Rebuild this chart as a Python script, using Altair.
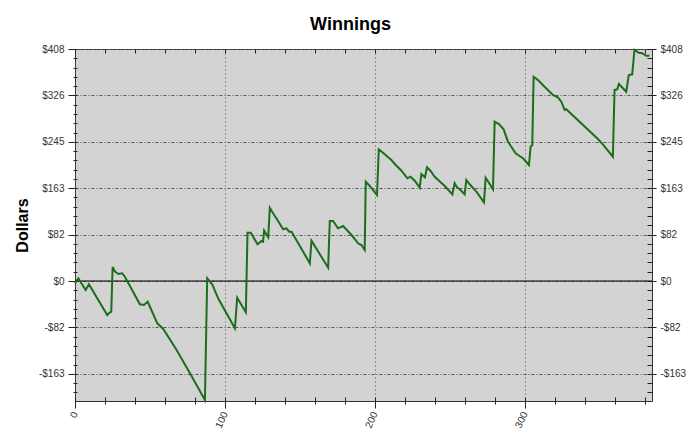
import altair as alt
import pandas as pd

# ---- data ----
games = [0, 2.2, 7.1, 9.3, 21.5, 23.3, 24.2, 25.1, 26.7, 28.9,
         31.5, 33.3, 43.3, 46, 48.5, 50, 54.9, 58.9, 67.8, 76.7,
         86.7, 88.2, 91.8, 95.5, 106.7, 108.2, 114, 115.1, 117.3, 121.8,
         124.5, 125.5, 126.2, 128.9, 130, 132.9, 135.1, 138.9, 141.1, 142.9,
         144.5, 156.7, 157.8, 168.9, 170, 172.2, 175.5, 178.9, 184.5, 188.9,
         191.1, 193.3, 194, 196.7, 201.5, 202.7, 205.5, 211.1, 214, 217.8,
         221.8, 223.8, 226.7, 230, 231.1, 233.5, 234.9, 237.3, 240, 246.7,
         251.8, 253.3, 254.9, 256.7, 260, 261.1, 263.8, 267.8, 272.9, 274,
         276.2, 278.9, 280, 282.9, 286, 288.9, 294, 298.9, 302.9, 304,
         305.1, 306, 308.9, 313.3, 318.9, 322.2, 324.5, 326.7, 327.8, 348.9,
         352.2, 358.9, 360, 361.8, 362.9, 367.8, 369.5, 371.8, 373.3, 376.2,
         378.5, 381.1, 383.3]
winnings = [-4, 4.7, -15.8, -5.8, -59.8, -55, -54, 24.6, 16.4, 12.3,
            13.5, 7.6, -41, -42.2, -36.4, -45.2, -74.4, -84.4, -121.4, -162.3,
            -209.3, 4.7, -7, -30.4, -83.2, -29.4, -55, 84.9, 84.9, 64.5,
            70.3, 69.1, 88.5, 76.9, 128.9, 116.1, 107.3, 90.9, 92.7, 86.7,
            86.7, 31.1, 70.9, 23.4, 105.5, 105.5, 92.7, 96.7, 80.9, 66.3,
            63.3, 54.5, 174.6, 167.1, 151.2, 231.6, 225.6, 212.8, 204, 194,
            180.6, 183.4, 176.4, 164.1, 188.2, 182.4, 200, 193.5, 183.4, 167.1,
            152.5, 171.8, 164.8, 161.3, 152.5, 177.6, 168.8, 157.1, 138.4, 181.7,
            172.9, 161.3, 280.2, 276.1, 266.8, 245, 224.6, 215.8, 204, 236.2,
            239.2, 359.3, 353.5, 341.7, 327.1, 323.1, 315.3, 300.7, 302, 249.7,
            240.4, 218.6, 335.9, 337.1, 346.5, 332.9, 362.3, 363.5, 406.3, 401.5,
            400.5, 396.2, 396.2]
zero_line = [0]

y_major_step = 81.6
y_ticks = [round(k * 16.32, 2) for k in range(-12, 26)]
x_ticks = list(range(0, 385, 20))
x_domain = [0, 385]
y_domain = [-211, 408]

df = pd.DataFrame({"game": games, "win": winnings})
zdf = pd.DataFrame({"v": zero_line})

FONT = "Liberation Sans"
y_major = f"abs(datum.value/{y_major_step} - round(datum.value/{y_major_step})) < 0.001"
y_label = f"({y_major}) ? ((datum.value < -0.01 ? '-$' : '$') + format(abs(datum.value), '.0f')) : ''"
x_major = "datum.value % 100 === 0"

xs = alt.Scale(domain=x_domain, nice=False, zero=False)
ys = alt.Scale(domain=y_domain, nice=False, zero=False)

zero = alt.Chart(zdf).mark_rule(color="#000000", strokeWidth=1).encode(
    y=alt.Y("v:Q", scale=ys, axis=None)
)

main = alt.Chart(df).mark_line(color="#1c6e1c", strokeWidth=2).encode(
    x=alt.X("game:Q", scale=xs, axis=alt.Axis(
        orient="bottom", values=x_ticks, title=None, offset=-4, domain=False,
        labelExpr=f"({x_major}) ? datum.label : ''", labelAngle=295,
        labelFont=FONT, labelFontSize=10, labelColor="#333333",
        labelOverlap=False, labelFlush=False, labelBound=False, labelPadding=4,
        tickSize={"condition": {"test": x_major, "value": 11}, "value": 7},
        tickColor="#222222",
        grid=True, gridColor="#555555", gridDash=[1, 3],
        gridOpacity={"condition": {"test": x_major, "value": 1}, "value": 0},
    )),
    y=alt.Y("win:Q", scale=ys, axis=alt.Axis(
        orient="left", values=y_ticks, offset=-2, domain=False,
        labelExpr=y_label, labelFont=FONT, labelFontSize=10, labelColor="#333333",
        labelOverlap=False, labelFlush=False, labelBound=False, labelPadding=4,
        tickSize={"condition": {"test": y_major, "value": 9}, "value": 4},
        tickColor="#222222",
        grid=True, gridColor="#555555", gridDash=[3, 2, 1, 2],
        gridOpacity={"condition": {"test": y_major, "value": 1}, "value": 0},
        title="Dollars", titleFont=FONT, titleFontSize=16, titleFontWeight="bold",
        titleColor="#000000", titleAngle=270, titleX=-55, titleY=176,
        titleBaseline="middle", titleAlign="center",
    )),
)

ghost = alt.Chart(df).mark_line(opacity=0).encode(
    x=alt.X("game:Q", scale=xs, axis=alt.Axis(
        orient="top", values=x_ticks, title=None, offset=-4, domain=False,
        labels=False, tickSize=4, tickColor="#222222", grid=False,
    )),
    y=alt.Y("win:Q", scale=ys, axis=alt.Axis(
        orient="right", values=y_ticks, title=None, offset=-5, domain=False,
        labelExpr=y_label, labelFont=FONT, labelFontSize=10, labelColor="#333333",
        labelOverlap=False, labelFlush=False, labelBound=False, labelPadding=4,
        tickSize={"condition": {"test": y_major, "value": 9}, "value": 5},
        tickColor="#222222", grid=False,
    )),
)

chart = alt.layer(zero, main, ghost).resolve_axis(
    x="independent", y="independent"
).resolve_scale(x="shared", y="shared").properties(
    width=577, height=352,
    background="#ffffff",
    autosize=alt.AutoSizeParams(type="none"),
    padding={"left": 67, "top": 41, "right": 40, "bottom": 30},
    title=alt.TitleParams("Winnings", font=FONT, fontSize=18, fontWeight="bold",
                          color="#000000", anchor="middle", dx=-13, offset=10),
).configure_view(fill="#d3d3d3", stroke="#333333", strokeWidth=1)

chart.save("out.html", embed_options={"renderer": "svg", "actions": False})
